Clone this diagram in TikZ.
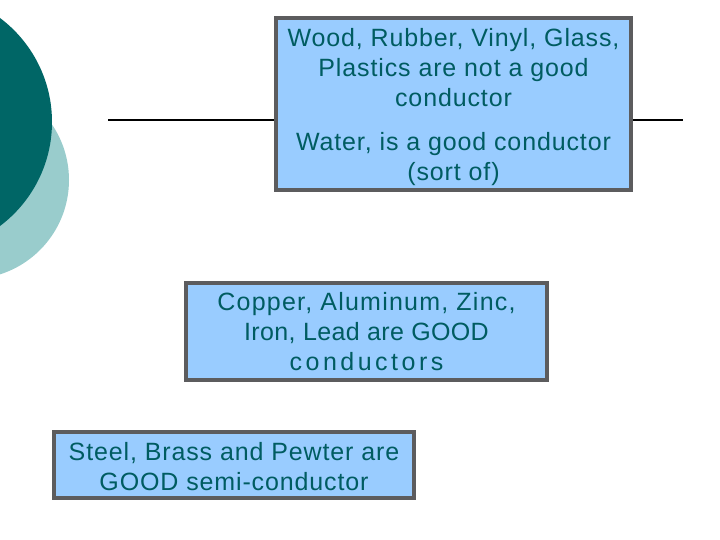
\documentclass[tikz,border=0pt]{standalone}
\usepackage{fontspec}
\setmainfont{Liberation Sans}
\newfontfamily\boxfont[LetterSpace=3.5]{Liberation Sans}
\newcommand{\spacedline}[2]{{\addfontfeature{LetterSpace=#1}#2}}
\definecolor{darkteal}{rgb}{0.000000, 0.400000, 0.400000}
\definecolor{paleteal}{rgb}{0.600000, 0.800000, 0.800000}
\definecolor{boxfill}{rgb}{0.600000, 0.800000, 1.000000}
\definecolor{boxline}{rgb}{0.360000, 0.360000, 0.370000}
\definecolor{boxtext}{rgb}{0.000000, 0.360000, 0.380000}
\tikzset{
  infobox/.style={draw=boxline, line width=4, fill=boxfill, text=boxtext,
    align=center, inner sep=0pt, font=\boxfont\fontsize{25}{30}\selectfont}
}

\begin{document}
\begin{tikzpicture}[x=1pt,y=-1pt]
\useasboundingbox (0,0) rectangle (720,540);
\clip (0,0) rectangle (720,540);
% corner circles
\fill[paleteal] (-30,180) circle (99);
\fill[darkteal] (-78,122) circle (130);
% rule behind the top box
\coordinate (ruleL) at (108,120);
\coordinate (ruleR) at (683,120);
\draw[line width=2] (ruleL) -- (ruleR);
% boxes
\node[infobox, minimum width=355, minimum height=172] (insulators) at (453.5,104)
  {\rule{0pt}{25pt}Wood, Rubber, Vinyl, Glass,\\Plastics are not a good\\conductor\\[14pt]Water, is a good conductor\\(sort of)};
\node[infobox, minimum width=361, minimum height=97] (metals) at (366.5,331.5)
  {\spacedline{4.9}{Copper, Aluminum, Zinc,}\\\spacedline{1.5}{Iron, Lead are GOOD}\\\spacedline{14}{conductors}};
\node[infobox, minimum width=360, minimum height=66] (alloys) at (234,465)
  {\rule{0pt}{22pt}Steel, Brass and Pewter are\\GOOD semi-conductor};
\end{tikzpicture}
\end{document}
